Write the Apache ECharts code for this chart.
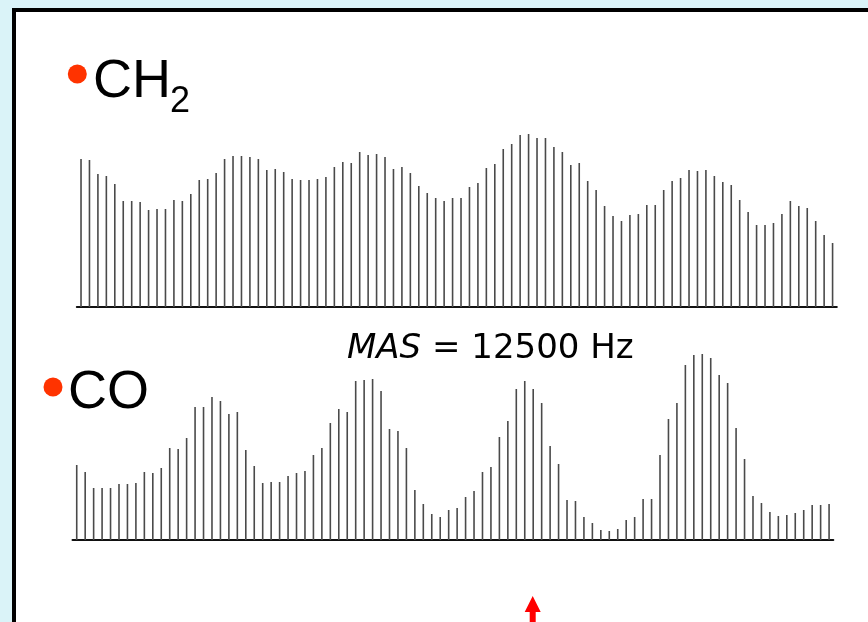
<!DOCTYPE html>
<html>
<head>
<meta charset="utf-8">
<script src="https://cdn.jsdelivr.net/npm/echarts@6/dist/echarts.min.js"></script>
<style>
  html, body { margin: 0; padding: 0; background: #daf3f8; }
  #main { width: 868px; height: 622px; }
</style>
</head>
<body>
<div id="main"></div>
<script>
// 峰高 (CH2 谱, 90 个旋转边带)
var ch2Heights = [
  148, 147, 133, 131, 123, 106, 106, 105, 97, 98, 98, 107, 106, 113, 127, 128, 134, 148, 151, 151, 150, 148, 137, 138, 135, 128, 127, 127, 128, 130,
  140, 145, 144, 155, 152, 153, 150, 138, 140, 134, 121, 114, 109, 106, 109, 109, 120, 124, 139, 143, 158, 163, 172, 173, 169, 169, 160, 155, 142, 144, 126,
  117, 101, 91, 86, 92, 93, 102, 102, 117, 126, 129, 137, 136, 137, 131, 125, 122, 107, 95, 82, 82, 84, 93, 106, 101, 99, 86, 72, 64
];
// 峰高 (CO 谱)
var coHeights = [
  75, 68, 52, 52, 52, 56, 56, 57, 68, 67, 72, 92, 91, 102, 133, 133, 143, 139, 126, 128, 90, 74, 57, 58, 58, 64, 67, 69, 85, 92,
  117, 131, 128, 159, 160, 161, 149, 111, 109, 92, 50, 36, 26, 23, 30, 32, 43, 49, 68, 73, 103, 119, 151, 159, 151, 137, 94, 76, 40, 39, 23,
  17, 10, 9, 11, 20, 23, 41, 41, 85, 121, 137, 175, 185, 186, 182, 165, 157, 112, 81, 44, 37, 28, 24, 25, 27, 30, 35, 35, 36
];
var labelCH = 'CH';
var labelSub = '2';
var labelCO = 'CO';
var labelMAS = 'MAS';
var labelRate = ' = 12500 Hz';

var myChart = echarts.init(document.getElementById('main'));

function peakAxis(gridIndex) {
    return {
        type: 'category',
        gridIndex: gridIndex,
        boundaryGap: true,
        axisTick: { show: false },
        axisLabel: { show: false },
        axisLine: {
            show: true,
            lineStyle: { color: '#111', width: 2 }
        }
    };
}
function heightAxis(gridIndex, max) {
    return {
        type: 'value',
        gridIndex: gridIndex,
        min: 0,
        max: max,
        show: false,
        splitLine: { show: false }
    };
}

var option = {
    backgroundColor: '#daf3f8',
    animation: false,
    grid: [
        { left: 76.8, right: 31.2, top: 127, bottom: 315 },
        { left: 72.5, right: 34.7, top: 350, bottom: 82 }
    ],
    xAxis: [peakAxis(0), peakAxis(1)],
    yAxis: [heightAxis(0, 180), heightAxis(1, 190)],
    graphic: [
        {
            type: 'rect',
            z: 0,
            shape: { x: 14, y: 10, width: 900, height: 700 },
            style: { fill: '#fff', stroke: '#000', lineWidth: 4 }
        },
        {
            type: 'circle', z: 10,
            shape: { cx: 77.3, cy: 74, r: 9.5 },
            style: { fill: '#ff3300' }
        },
        {
            type: 'text', z: 10,
            style: { text: labelCH, x: 93, y: 82, verticalAlign: 'middle', font: '54px "Liberation Sans", Arial, sans-serif', fill: '#000' }
        },
        {
            type: 'text', z: 10,
            style: { text: labelSub, x: 170, y: 102, verticalAlign: 'middle', font: '36px "Liberation Sans", Arial, sans-serif', fill: '#000' }
        },
        {
            type: 'circle', z: 10,
            shape: { cx: 53, cy: 387, r: 9.5 },
            style: { fill: '#ff3300' }
        },
        {
            type: 'text', z: 10,
            style: { text: labelCO, x: 68, y: 393, verticalAlign: 'middle', font: '54px "Liberation Sans", Arial, sans-serif', fill: '#000' }
        },
        {
            type: 'text', z: 10,
            style: {
                text: '{i|' + labelMAS + '}{n|' + labelRate + '}',
                x: 347, y: 349, verticalAlign: 'middle',
                rich: {
                    i: { fontFamily: '"DejaVu Sans", sans-serif', fontSize: 34, fontStyle: 'italic', fill: '#000', color: '#000' },
                    n: { fontFamily: '"DejaVu Sans", sans-serif', fontSize: 34, fill: '#000', color: '#000' }
                }
            }
        },
        {
            // 红色箭头
            type: 'polygon', z: 10,
            shape: { points: [[532.7, 596], [524.7, 612], [529.7, 612], [529.7, 625], [535.7, 625], [535.7, 612], [540.7, 612]] },
            style: { fill: '#ff0000' }
        }
    ],
    series: [
        {
            name: 'CH2',
            type: 'bar',
            xAxisIndex: 0,
            yAxisIndex: 0,
            barWidth: 1.6,
            z: 5,
            itemStyle: { color: '#4a4a4a' },
            data: ch2Heights
        },
        {
            name: 'CO',
            type: 'bar',
            xAxisIndex: 1,
            yAxisIndex: 1,
            barWidth: 1.6,
            z: 5,
            itemStyle: { color: '#4a4a4a' },
            data: coHeights
        }
    ]
};
myChart.setOption(option);
</script>
</body>
</html>
